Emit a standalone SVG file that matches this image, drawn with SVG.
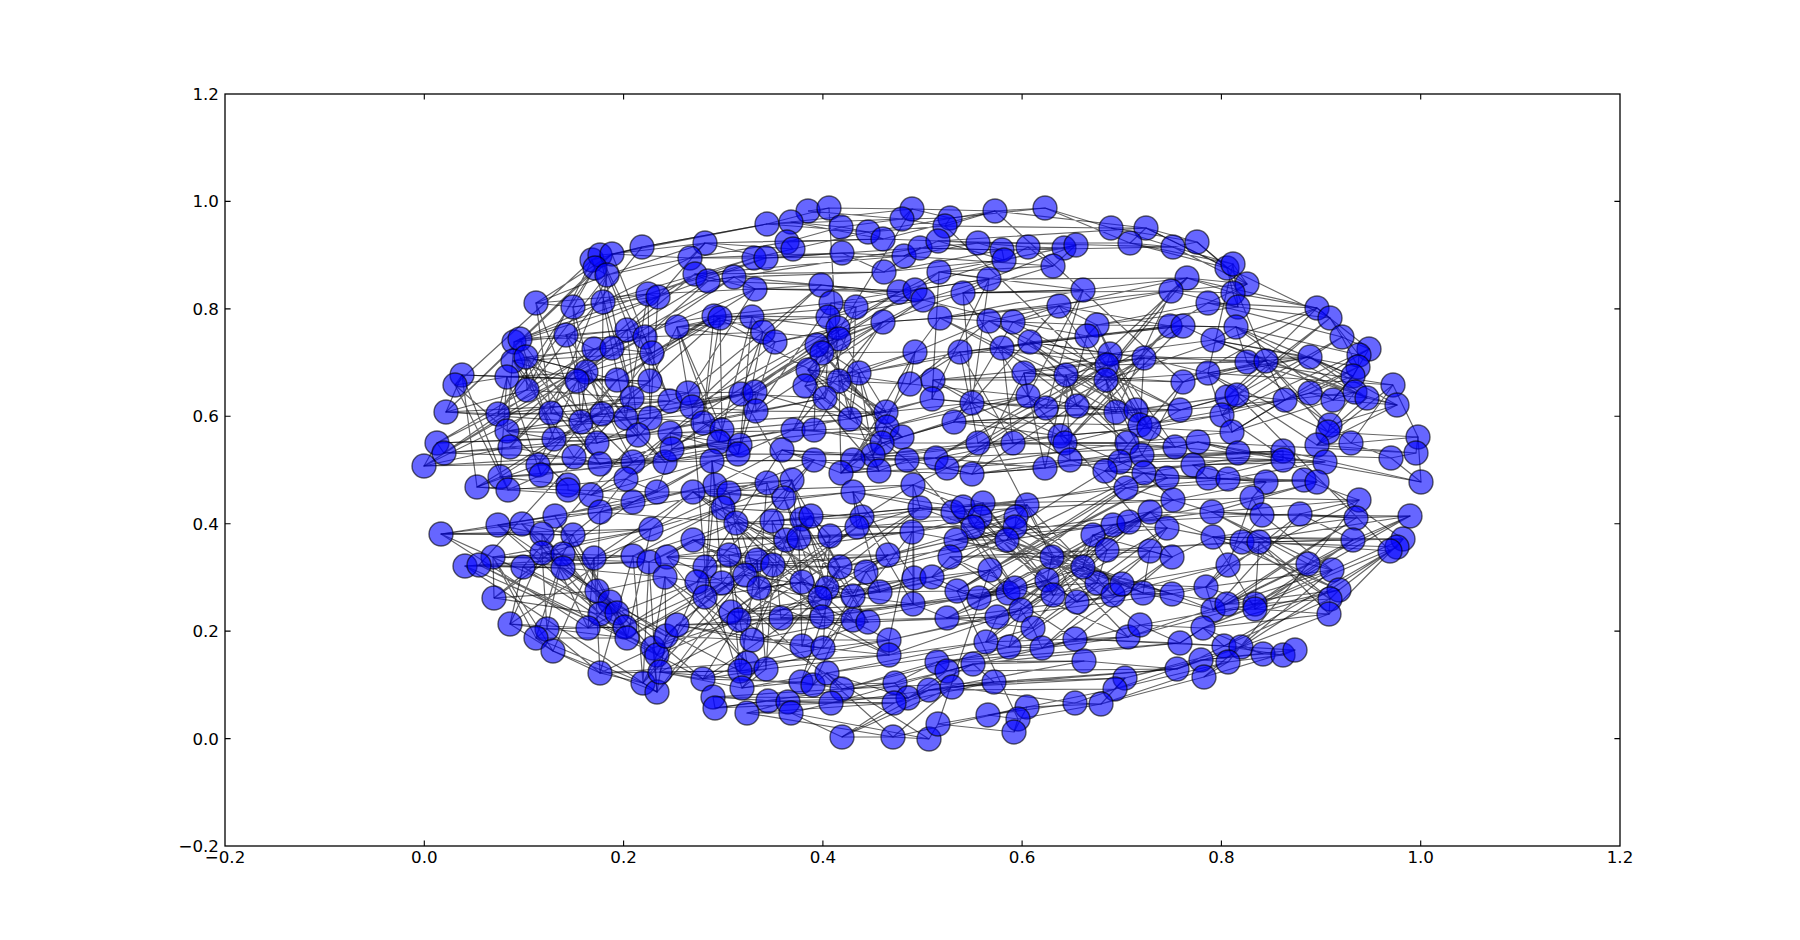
<svg xmlns="http://www.w3.org/2000/svg" width="1800" height="940" viewBox="0 0 1800 940">
<style>
.e{fill:none;stroke:#000;stroke-opacity:.6;stroke-width:1.2;stroke-linejoin:round}
.nodes circle{fill:#00f;fill-opacity:.6;stroke:#000;stroke-opacity:.6;stroke-width:1.4}
.tk{stroke:#000;stroke-width:1.1}
.lbl{font-family:"DejaVu Sans","Liberation Sans",sans-serif;font-size:16.7px;fill:#000}
</style>
<rect x="0" y="0" width="1800" height="940" fill="#fff"/>
<g id="edges">
<path class="e" d="M642,247 592,260 600,255 612,254 595,268 607,275 536,303 573,307 603,302 648,294 658,297 514,342 520,339 566,335 627,330 645,337 594,349 612,348 652,353 513,361 526,357 586,372 577,381 617,380 507,377 650,381 462,375 455,385"/>
<path class="e" d="M808,211 829,208 912,209 902,219 767,224 791,222 841,227 868,232 883,239 787,242 793,249 705,243 690,258 754,258 766,258 842,253 904,256 920,248 884,272 695,274 708,281 734,277 755,289 821,285 899,292 915,290 923,300 831,303 856,307 828,317 714,316 720,318 677,327 752,317 763,332 775,342 838,328 839,339 883,322 817,345 822,353 808,370 859,373 915,352 910,384 839,381 805,386"/>
<path class="e" d="M950,218 945,226 995,211 1045,208 1111,228 1146,228 1130,243 1173,247 938,241 978,243 1002,250 1004,260 1028,247 1064,248 1076,245 1053,266 939,272 989,279 963,293 1083,290 1187,278 1171,291 940,318 989,321 1013,322 1059,306 1097,325 1087,336 1170,326 1183,326 960,352 1002,348 1030,342 1110,354 1107,365 1144,358 1024,373 1066,375 933,380 1106,380 1183,382"/>
<path class="e" d="M1197,242 1227,268 1233,264 1247,284 1233,293 1238,307 1208,303 1317,308 1330,318 1342,337 1369,349 1359,355 1358,367 1353,376 1236,327 1213,340 1310,357 1247,362 1266,361 1208,373 1393,385"/>
<path class="e" d="M527,390 632,398 670,401 446,412 498,414 551,413 581,422 602,414 626,418 650,418 507,431 554,439 597,443 638,435 437,443 444,453 510,447 424,466 574,457 600,464 633,462 665,462 538,465 541,475 500,477 477,487 508,490 568,485 568,490 591,495 626,479 657,492 633,502 600,512 555,516 498,525 522,524 441,534 542,534 573,535 651,529 542,553 563,554 493,557 594,558 633,556 649,562 465,566 479,565 523,567 563,568"/>
<path class="e" d="M688,393 692,407 741,394 755,392 756,411 825,398 850,419 886,412 703,423 722,430 719,442 740,445 738,454 670,433 672,449 793,430 814,430 887,427 902,437 882,443 873,455 853,460 841,473 879,471 907,460 782,450 814,460 712,461 715,485 729,493 767,483 792,480 784,498 693,492 723,508 853,492 913,485 862,517 857,527 920,508 772,521 736,523 802,519 811,516 786,540 799,538 830,536 912,532 693,540 667,557 729,555 757,560 773,565 888,555 705,567 840,567 866,572"/>
<path class="e" d="M932,399 972,403 1028,396 1046,408 1077,406 1116,412 1136,410 1180,410 954,422 1140,425 1149,428 1060,436 1065,443 978,443 1013,443 1127,443 1175,447 936,458 947,468 972,474 1045,468 1070,460 1120,462 1142,455 1105,471 1144,473 1167,478 1126,488 1173,500 953,512 963,507 983,503 980,517 973,527 1027,505 1016,517 1015,527 1007,540 956,540 1113,525 1129,522 1150,512 1167,528 1093,535 1107,550 1150,551 1172,557 950,557 1052,557"/>
<path class="e" d="M1227,397 1237,395 1222,415 1232,432 1285,400 1310,393 1333,400 1355,392 1367,398 1397,405 1330,425 1328,432 1317,445 1351,443 1418,437 1416,453 1391,458 1421,482 1198,442 1238,453 1283,451 1283,460 1325,462 1193,465 1208,478 1228,479 1266,482 1304,480 1317,482 1252,498 1359,500 1212,512 1262,515 1300,514 1356,518 1410,516 1353,540 1213,537 1242,542 1259,542 1403,539 1397,547 1390,551"/>
<path class="e" d="M494,598 597,591 610,602 600,614 617,613 588,628 625,627 627,638 510,624 547,629 536,638 553,651 600,673 643,683 657,692 653,648 657,655 666,636 665,577"/>
<path class="e" d="M697,582 722,583 705,597 745,575 759,588 802,582 827,588 820,598 853,596 880,592 914,578 913,604 731,612 739,620 781,618 822,617 853,620 868,622 677,625 752,640 802,646 823,648 889,640 889,655 747,663 740,671 766,669 703,679 660,672 742,688 801,682 813,685 827,673 842,689 895,683 908,698 713,697 715,708 768,701 788,702 831,703 894,703 747,713 791,713 842,737 893,737 929,739"/>
<path class="e" d="M932,577 990,570 957,591 979,598 1008,593 1015,588 1047,580 1053,595 1097,583 1077,602 1113,595 1122,584 1143,593 1172,594 1083,567 947,618 997,617 1021,610 1033,628 986,642 1009,647 1042,648 1075,639 1128,637 1140,625 1180,643 937,662 947,671 973,664 1084,661 1177,669 994,682 929,690 952,687 1125,678 1115,689 1075,703 1101,704 1027,707 988,715 1018,719 1014,732 938,724"/>
<path class="e" d="M1228,565 1308,564 1332,570 1206,587 1213,610 1227,604 1255,604 1255,609 1339,590 1330,599 1329,614 1203,628 1224,646 1241,647 1263,654 1283,655 1295,650 1201,660 1228,662 1204,677"/>
<path class="e" d="M642,247 612,254 536,303 648,294 520,339 645,337 652,353 586,372 507,377 455,385 592,260 595,268 573,307 658,297 566,335 594,349 513,361 577,381 650,381 600,255 607,275 603,302 514,342 627,330 612,348 526,357 617,380 462,375"/>
<path class="e" d="M808,211 902,219 841,227 787,242 690,258 842,253 884,272 734,277 899,292 831,303 714,316 752,317 838,328 817,345 859,373 839,381 829,208 767,224 868,232 793,249 754,258 904,256 695,274 755,289 915,290 856,307 720,318 763,332 839,339 822,353 915,352 805,386 912,209 791,222 883,239 705,243 766,258 920,248 708,281 821,285 923,300 828,317 677,327 775,342 883,322 808,370 910,384"/>
<path class="e" d="M950,218 1045,208 1130,243 978,243 1028,247 1053,266 963,293 1171,291 1013,322 1087,336 960,352 1110,354 1024,373 1106,380 945,226 1111,228 1173,247 1002,250 1064,248 939,272 1083,290 940,318 1059,306 1170,326 1002,348 1107,365 1066,375 1183,382 995,211 1146,228 938,241 1004,260 1076,245 989,279 1187,278 989,321 1097,325 1183,326 1030,342 1144,358 933,380"/>
<path class="e" d="M1197,242 1247,284 1208,303 1342,337 1358,367 1213,340 1266,361 1227,268 1233,293 1317,308 1369,349 1353,376 1310,357 1208,373 1233,264 1238,307 1330,318 1359,355 1236,327 1247,362 1393,385"/>
<path class="e" d="M1227,397 1232,432 1333,400 1397,405 1317,445 1416,453 1198,442 1283,460 1208,478 1304,480 1359,500 1300,514 1353,540 1259,542 1390,551 1237,395 1285,400 1355,392 1330,425 1351,443 1391,458 1238,453 1325,462 1228,479 1317,482 1212,512 1356,518 1213,537 1403,539 1222,415 1310,393 1367,398 1328,432 1418,437 1421,482 1283,451 1193,465 1266,482 1252,498 1262,515 1410,516 1242,542 1397,547"/>
<path class="e" d="M932,399 1046,408 1136,410 1140,425 1065,443 1127,443 947,468 1070,460 1105,471 1126,488 963,507 973,527 1015,527 1113,525 1167,528 1150,551 1052,557 972,403 1077,406 1180,410 1149,428 978,443 1175,447 972,474 1120,462 1144,473 1173,500 983,503 1027,505 1007,540 1129,522 1093,535 1172,557 1028,396 1116,412 954,422 1060,436 1013,443 936,458 1045,468 1142,455 1167,478 953,512 980,517 1016,517 956,540 1150,512 1107,550 950,557"/>
<path class="e" d="M688,393 755,392 850,419 722,430 738,454 793,430 902,437 853,460 907,460 712,461 767,483 693,492 913,485 920,508 802,519 799,538 693,540 757,560 705,567 692,407 756,411 886,412 719,442 670,433 814,430 882,443 841,473 782,450 715,485 792,480 723,508 862,517 772,521 811,516 830,536 667,557 773,565 840,567 741,394 825,398 703,423 740,445 672,449 887,427 873,455 879,471 814,460 729,493 784,498 853,492 857,527 736,523 786,540 912,532 729,555 888,555 866,572"/>
<path class="e" d="M527,390 446,412 581,422 650,418 597,443 444,453 574,457 665,462 500,477 568,485 626,479 600,512 522,524 573,535 563,554 633,556 479,565 632,398 498,414 602,414 507,431 638,435 510,447 600,464 538,465 477,487 568,490 657,492 555,516 441,534 651,529 493,557 649,562 523,567 670,401 551,413 626,418 554,439 437,443 424,466 633,462 541,475 508,490 591,495 633,502 498,525 542,534 542,553 594,558 465,566 563,568"/>
<path class="e" d="M494,598 600,614 625,627 547,629 600,673 653,648 665,577 597,591 617,613 627,638 536,638 643,683 657,655 610,602 588,628 510,624 553,651 657,692 666,636"/>
<path class="e" d="M697,582 745,575 827,588 880,592 731,612 822,617 677,625 823,648 747,663 703,679 801,682 842,689 713,697 788,702 747,713 893,737 722,583 759,588 820,598 914,578 739,620 853,620 752,640 889,640 740,671 660,672 813,685 895,683 715,708 831,703 791,713 929,739 705,597 802,582 853,596 913,604 781,618 868,622 802,646 889,655 766,669 742,688 827,673 908,698 768,701 894,703 842,737"/>
<path class="e" d="M932,577 979,598 1047,580 1077,602 1143,593 947,618 1033,628 1042,648 1140,625 947,671 1177,669 952,687 1075,703 988,715 938,724 990,570 1008,593 1053,595 1113,595 1172,594 997,617 986,642 1075,639 1180,643 973,664 994,682 1125,678 1101,704 1018,719 957,591 1015,588 1097,583 1122,584 1083,567 1021,610 1009,647 1128,637 937,662 1084,661 929,690 1115,689 1027,707 1014,732"/>
<path class="e" d="M1228,565 1206,587 1255,604 1330,599 1224,646 1283,655 1228,662 1308,564 1213,610 1255,609 1329,614 1241,647 1295,650 1204,677 1332,570 1227,604 1339,590 1203,628 1263,654 1201,660"/>
<path class="e" d="M658,297 705,243M648,294 755,289M652,353 720,318M617,380 688,393M645,337 763,332M642,247 767,224M627,330 714,316M612,254 690,258M915,290 989,279M923,300 1013,322M912,209 995,211M920,248 1002,250M915,352 960,352M910,384 1028,396M904,256 1053,266M883,322 940,318M1173,247 1197,242M1187,278 1317,308M1183,326 1236,327M1171,291 1247,284M1183,382 1266,361M1146,228 1330,318M1393,385 1418,437M1353,376 1333,400M1266,361 1285,400M1208,373 1222,415M1024,373 1028,396M1066,375 1077,406M1106,380 1116,412M933,380 932,399M1144,358 1140,425M808,370 825,398M859,373 850,419M839,381 886,412M763,332 741,394M677,327 688,393M586,372 581,422M650,381 632,398M507,377 498,414M462,375 446,412M526,357 527,390M665,462 712,461M657,492 693,492M651,529 723,508M650,418 703,423M649,562 705,567M907,460 936,458M913,485 947,468M920,508 953,512M912,532 956,540M902,437 954,422M1175,447 1198,442M1173,500 1212,512M1172,557 1213,537M1180,410 1227,397M1167,478 1208,478M493,557 494,598M563,568 597,591M594,558 588,628M523,567 510,624M705,567 697,582M757,560 759,588M840,567 827,588M866,572 880,592M773,565 745,575M950,557 932,577M1052,557 1047,580M1107,550 1097,583M1150,551 1143,593M1083,567 1093,535M1259,542 1255,604M1390,551 1339,590M1353,540 1308,564M657,655 703,679M666,636 677,625M665,577 697,582M914,578 932,577M913,604 947,618M908,698 929,690M929,739 938,724M1180,643 1203,628M1172,594 1206,587M1177,669 1201,660M441,534 573,535M600,512 736,523M857,527 1015,527M1070,460 1238,453M1120,462 1283,460M738,454 873,455M782,450 936,458M1013,443 1127,443M1105,471 1266,482M1144,358 1310,357M963,293 1083,290M755,289 899,292M600,464 738,454M842,689 994,682M1075,639 1224,646"/>
<path class="e" d="M642,247 527,390 592,260 632,398 600,255 670,401 612,254 446,412 595,268 498,414 607,275 551,413 536,303 581,422 573,307 602,414 603,302 626,418 648,294 650,418 658,297 507,431 514,342 554,439 520,339 597,443 566,335 638,435 627,330 437,443 645,337 444,453 594,349 510,447 612,348 424,466 652,353 574,457 513,361 600,464 526,357 633,462 586,372 665,462 577,381 538,465 617,380 541,475 507,377 500,477 650,381 477,487 462,375 508,490 455,385 568,485"/>
<path class="e" d="M755,289 688,393 821,285 692,407 899,292 741,394 915,290 755,392 923,300 756,411 831,303 825,398 856,307 850,419 828,317 886,412 714,316 703,423 720,318 722,430 677,327 719,442 752,317 740,445 763,332 738,454 775,342 670,433 838,328 672,449 839,339 793,430 883,322 814,430 817,345 887,427 822,353 902,437 808,370 882,443 859,373 873,455 915,352 853,460 910,384 841,473 839,381 879,471 805,386 907,460"/>
<path class="e" d="M939,272 932,399 989,279 972,403 963,293 1028,396 1083,290 1046,408 1187,278 1077,406 1171,291 1116,412 940,318 1136,410 989,321 1180,410 1013,322 954,422 1059,306 1140,425 1097,325 1149,428 1087,336 1060,436 1170,326 1065,443 1183,326 978,443 960,352 1013,443 1002,348 1127,443 1030,342 1175,447 1110,354 936,458 1107,365 947,468 1144,358 972,474 1024,373 1045,468 1066,375 1070,460 933,380 1120,462 1106,380 1142,455 1183,382 1105,471"/>
<path class="e" d="M782,450 697,582 814,460 722,583 712,461 705,597 715,485 745,575 729,493 759,588 767,483 802,582 792,480 827,588 784,498 820,598 693,492 853,596 723,508 880,592 853,492 914,578 913,485 913,604 862,517 731,612 857,527 739,620 920,508 781,618 772,521 822,617 736,523 853,620 802,519 868,622 811,516 677,625 786,540 752,640 799,538 802,646 830,536 823,648 912,532 889,640 693,540 889,655 667,557 747,663 729,555 740,671 757,560 766,669 773,565 703,679 888,555 660,672 705,567 742,688 840,567 801,682 866,572 813,685"/>
<path class="e" d="M1105,471 932,577 1144,473 990,570 1167,478 957,591 1126,488 979,598 1173,500 1008,593 953,512 1015,588 963,507 1047,580 983,503 1053,595 980,517 1097,583 973,527 1077,602 1027,505 1113,595 1016,517 1122,584 1015,527 1143,593 1007,540 1172,594 956,540 1083,567 1113,525 947,618 1129,522 997,617 1150,512 1021,610 1167,528 1033,628 1093,535 986,642 1107,550 1009,647 1150,551 1042,648 1172,557 1075,639 950,557 1128,637 1052,557 1140,625"/>
<path class="e" d="M1317,308 1227,397 1330,318 1237,395 1342,337 1222,415 1369,349 1232,432 1359,355 1285,400 1358,367 1310,393 1353,376 1333,400 1236,327 1355,392 1213,340 1367,398 1310,357 1397,405 1247,362 1330,425 1266,361 1328,432 1208,373 1317,445 1393,385 1351,443"/>
<path class="e" d="M1252,498 1228,565 1359,500 1308,564 1212,512 1332,570 1262,515 1206,587 1300,514 1213,610 1356,518 1227,604 1410,516 1255,604 1353,540 1255,609 1213,537 1339,590 1242,542 1330,599 1259,542 1329,614 1403,539 1203,628 1397,547 1224,646 1390,551 1241,647"/>
<path class="e" d="M633,502 494,598 600,512 597,591 555,516 610,602 498,525 600,614 522,524 617,613 441,534 588,628 542,534 625,627 573,535 627,638 651,529 510,624 542,553 547,629 563,554 536,638 493,557 553,651 594,558 600,673 633,556 643,683 649,562 657,692 465,566 653,648 479,565 657,655 523,567 666,636 563,568 665,577"/>
<path class="e" d="M827,588 932,577 853,596 990,570 880,592 957,591 914,578 979,598 913,604 1008,593 822,617 1015,588 853,620 947,618 868,622 997,617 889,640 1021,610 889,655 986,642 827,673 1009,647 842,689 937,662 895,683 947,671 908,698 973,664 831,703 994,682 894,703 929,690 842,737 952,687 893,737 1027,707"/>
<path class="e" d="M850,419 932,399 886,412 972,403 887,427 1028,396 902,437 954,422 882,443 978,443 873,455 1013,443 853,460 936,458 841,473 947,468 879,471 972,474 907,460 953,512 853,492 963,507 913,485 983,503 862,517 980,517 857,527 973,527 920,508 1027,505 912,532 1016,517 888,555 1015,527 866,572 1007,540 840,567 956,540"/>
<path class="e" d="M632,398 688,393 670,401 692,407 602,414 741,394 626,418 755,392 650,418 756,411 597,443 703,423 638,435 722,430 600,464 719,442 633,462 740,445 665,462 738,454 591,495 670,433 626,479 672,449 657,492 712,461 633,502 715,485 600,512 729,493 651,529 693,492 594,558 723,508 633,556 736,523 649,562 693,540"/>
<path class="e" d="M1116,412 1227,397 1136,410 1237,395 1180,410 1285,400 1140,425 1222,415 1149,428 1232,432 1127,443 1198,442 1175,447 1238,453 1120,462 1283,451 1142,455 1283,460 1105,471 1193,465 1144,473 1208,478 1167,478 1228,479 1126,488 1266,482 1173,500 1252,498 1113,525 1212,512 1129,522 1262,515 1150,512 1213,537 1167,528 1242,542 1107,550 1259,542"/>
<path class="e" d="M642,247 767,224 612,254 705,243 607,275 690,258 603,302 754,258 648,294 766,258 658,297 695,274 627,330 708,281 645,337 734,277 612,348 755,289 652,353 714,316 617,380 720,318 650,381 677,327"/>
<path class="e" d="M912,209 950,218 902,219 945,226 868,232 995,211 883,239 938,241 904,256 978,243 920,248 1002,250 884,272 1004,260 899,292 939,272 915,290 989,279 923,300 963,293 883,322 940,318 915,352 989,321 910,384 960,352 859,373 1002,348"/>
<path class="e" d="M1111,228 1197,242 1146,228 1227,268 1130,243 1233,264 1173,247 1247,284 1187,278 1233,293 1171,291 1238,307 1097,325 1208,303 1170,326 1236,327 1183,326 1213,340 1110,354 1247,362 1107,365 1266,361 1144,358 1208,373 1106,380 1317,308 1183,382 1310,357"/>
<path class="e" d="M1113,595 1228,565 1122,584 1206,587 1143,593 1213,610 1172,594 1227,604 1128,637 1255,604 1140,625 1203,628 1180,643 1224,646 1177,669 1241,647 1125,678 1201,660 1115,689 1228,662 1101,704 1204,677"/>
<path class="e" d="M617,613 697,582 625,627 722,583 627,638 705,597 643,683 745,575 657,692 731,612 653,648 739,620 657,655 677,625 666,636 752,640 665,577 747,663 600,673 740,671 610,602 703,679"/>
</g>
<g class="nodes">
<g id="n1"><circle cx="642" cy="247" r="12"/></g>
<g id="n2"><circle cx="592" cy="260" r="12"/></g>
<g id="n3"><circle cx="600" cy="255" r="12"/></g>
<g id="n4"><circle cx="612" cy="254" r="12"/></g>
<g id="n5"><circle cx="595" cy="268" r="12"/></g>
<g id="n6"><circle cx="607" cy="275" r="12"/></g>
<g id="n7"><circle cx="536" cy="303" r="12"/></g>
<g id="n8"><circle cx="573" cy="307" r="12"/></g>
<g id="n9"><circle cx="603" cy="302" r="12"/></g>
<g id="n10"><circle cx="648" cy="294" r="12"/></g>
<g id="n11"><circle cx="658" cy="297" r="12"/></g>
<g id="n12"><circle cx="514" cy="342" r="12"/></g>
<g id="n13"><circle cx="520" cy="339" r="12"/></g>
<g id="n14"><circle cx="566" cy="335" r="12"/></g>
<g id="n15"><circle cx="627" cy="330" r="12"/></g>
<g id="n16"><circle cx="645" cy="337" r="12"/></g>
<g id="n17"><circle cx="594" cy="349" r="12"/></g>
<g id="n18"><circle cx="612" cy="348" r="12"/></g>
<g id="n19"><circle cx="652" cy="353" r="12"/></g>
<g id="n20"><circle cx="513" cy="361" r="12"/></g>
<g id="n21"><circle cx="526" cy="357" r="12"/></g>
<g id="n22"><circle cx="586" cy="372" r="12"/></g>
<g id="n23"><circle cx="577" cy="381" r="12"/></g>
<g id="n24"><circle cx="617" cy="380" r="12"/></g>
<g id="n25"><circle cx="507" cy="377" r="12"/></g>
<g id="n26"><circle cx="650" cy="381" r="12"/></g>
<g id="n27"><circle cx="462" cy="375" r="12"/></g>
<g id="n28"><circle cx="455" cy="385" r="12"/></g>
<g id="n29"><circle cx="808" cy="211" r="12"/></g>
<g id="n30"><circle cx="829" cy="208" r="12"/></g>
<g id="n31"><circle cx="912" cy="209" r="12"/></g>
<g id="n32"><circle cx="902" cy="219" r="12"/></g>
<g id="n33"><circle cx="767" cy="224" r="12"/></g>
<g id="n34"><circle cx="791" cy="222" r="12"/></g>
<g id="n35"><circle cx="841" cy="227" r="12"/></g>
<g id="n36"><circle cx="868" cy="232" r="12"/></g>
<g id="n37"><circle cx="883" cy="239" r="12"/></g>
<g id="n38"><circle cx="787" cy="242" r="12"/></g>
<g id="n39"><circle cx="793" cy="249" r="12"/></g>
<g id="n40"><circle cx="705" cy="243" r="12"/></g>
<g id="n41"><circle cx="690" cy="258" r="12"/></g>
<g id="n42"><circle cx="754" cy="258" r="12"/></g>
<g id="n43"><circle cx="766" cy="258" r="12"/></g>
<g id="n44"><circle cx="842" cy="253" r="12"/></g>
<g id="n45"><circle cx="904" cy="256" r="12"/></g>
<g id="n46"><circle cx="920" cy="248" r="12"/></g>
<g id="n47"><circle cx="884" cy="272" r="12"/></g>
<g id="n48"><circle cx="695" cy="274" r="12"/></g>
<g id="n49"><circle cx="708" cy="281" r="12"/></g>
<g id="n50"><circle cx="734" cy="277" r="12"/></g>
<g id="n51"><circle cx="755" cy="289" r="12"/></g>
<g id="n52"><circle cx="821" cy="285" r="12"/></g>
<g id="n53"><circle cx="899" cy="292" r="12"/></g>
<g id="n54"><circle cx="915" cy="290" r="12"/></g>
<g id="n55"><circle cx="923" cy="300" r="12"/></g>
<g id="n56"><circle cx="831" cy="303" r="12"/></g>
<g id="n57"><circle cx="856" cy="307" r="12"/></g>
<g id="n58"><circle cx="828" cy="317" r="12"/></g>
<g id="n59"><circle cx="714" cy="316" r="12"/></g>
<g id="n60"><circle cx="720" cy="318" r="12"/></g>
<g id="n61"><circle cx="677" cy="327" r="12"/></g>
<g id="n62"><circle cx="752" cy="317" r="12"/></g>
<g id="n63"><circle cx="763" cy="332" r="12"/></g>
<g id="n64"><circle cx="775" cy="342" r="12"/></g>
<g id="n65"><circle cx="838" cy="328" r="12"/></g>
<g id="n66"><circle cx="839" cy="339" r="12"/></g>
<g id="n67"><circle cx="883" cy="322" r="12"/></g>
<g id="n68"><circle cx="817" cy="345" r="12"/></g>
<g id="n69"><circle cx="822" cy="353" r="12"/></g>
<g id="n70"><circle cx="808" cy="370" r="12"/></g>
<g id="n71"><circle cx="859" cy="373" r="12"/></g>
<g id="n72"><circle cx="915" cy="352" r="12"/></g>
<g id="n73"><circle cx="910" cy="384" r="12"/></g>
<g id="n74"><circle cx="839" cy="381" r="12"/></g>
<g id="n75"><circle cx="805" cy="386" r="12"/></g>
<g id="n76"><circle cx="950" cy="218" r="12"/></g>
<g id="n77"><circle cx="945" cy="226" r="12"/></g>
<g id="n78"><circle cx="995" cy="211" r="12"/></g>
<g id="n79"><circle cx="1045" cy="208" r="12"/></g>
<g id="n80"><circle cx="1111" cy="228" r="12"/></g>
<g id="n81"><circle cx="1146" cy="228" r="12"/></g>
<g id="n82"><circle cx="1130" cy="243" r="12"/></g>
<g id="n83"><circle cx="1173" cy="247" r="12"/></g>
<g id="n84"><circle cx="938" cy="241" r="12"/></g>
<g id="n85"><circle cx="978" cy="243" r="12"/></g>
<g id="n86"><circle cx="1002" cy="250" r="12"/></g>
<g id="n87"><circle cx="1004" cy="260" r="12"/></g>
<g id="n88"><circle cx="1028" cy="247" r="12"/></g>
<g id="n89"><circle cx="1064" cy="248" r="12"/></g>
<g id="n90"><circle cx="1076" cy="245" r="12"/></g>
<g id="n91"><circle cx="1053" cy="266" r="12"/></g>
<g id="n92"><circle cx="939" cy="272" r="12"/></g>
<g id="n93"><circle cx="989" cy="279" r="12"/></g>
<g id="n94"><circle cx="963" cy="293" r="12"/></g>
<g id="n95"><circle cx="1083" cy="290" r="12"/></g>
<g id="n96"><circle cx="1187" cy="278" r="12"/></g>
<g id="n97"><circle cx="1171" cy="291" r="12"/></g>
<g id="n98"><circle cx="940" cy="318" r="12"/></g>
<g id="n99"><circle cx="989" cy="321" r="12"/></g>
<g id="n100"><circle cx="1013" cy="322" r="12"/></g>
<g id="n101"><circle cx="1059" cy="306" r="12"/></g>
<g id="n102"><circle cx="1097" cy="325" r="12"/></g>
<g id="n103"><circle cx="1087" cy="336" r="12"/></g>
<g id="n104"><circle cx="1170" cy="326" r="12"/></g>
<g id="n105"><circle cx="1183" cy="326" r="12"/></g>
<g id="n106"><circle cx="960" cy="352" r="12"/></g>
<g id="n107"><circle cx="1002" cy="348" r="12"/></g>
<g id="n108"><circle cx="1030" cy="342" r="12"/></g>
<g id="n109"><circle cx="1110" cy="354" r="12"/></g>
<g id="n110"><circle cx="1107" cy="365" r="12"/></g>
<g id="n111"><circle cx="1144" cy="358" r="12"/></g>
<g id="n112"><circle cx="1024" cy="373" r="12"/></g>
<g id="n113"><circle cx="1066" cy="375" r="12"/></g>
<g id="n114"><circle cx="933" cy="380" r="12"/></g>
<g id="n115"><circle cx="1106" cy="380" r="12"/></g>
<g id="n116"><circle cx="1183" cy="382" r="12"/></g>
<g id="n117"><circle cx="1197" cy="242" r="12"/></g>
<g id="n118"><circle cx="1227" cy="268" r="12"/></g>
<g id="n119"><circle cx="1233" cy="264" r="12"/></g>
<g id="n120"><circle cx="1247" cy="284" r="12"/></g>
<g id="n121"><circle cx="1233" cy="293" r="12"/></g>
<g id="n122"><circle cx="1238" cy="307" r="12"/></g>
<g id="n123"><circle cx="1208" cy="303" r="12"/></g>
<g id="n124"><circle cx="1317" cy="308" r="12"/></g>
<g id="n125"><circle cx="1330" cy="318" r="12"/></g>
<g id="n126"><circle cx="1342" cy="337" r="12"/></g>
<g id="n127"><circle cx="1369" cy="349" r="12"/></g>
<g id="n128"><circle cx="1359" cy="355" r="12"/></g>
<g id="n129"><circle cx="1358" cy="367" r="12"/></g>
<g id="n130"><circle cx="1353" cy="376" r="12"/></g>
<g id="n131"><circle cx="1236" cy="327" r="12"/></g>
<g id="n132"><circle cx="1213" cy="340" r="12"/></g>
<g id="n133"><circle cx="1310" cy="357" r="12"/></g>
<g id="n134"><circle cx="1247" cy="362" r="12"/></g>
<g id="n135"><circle cx="1266" cy="361" r="12"/></g>
<g id="n136"><circle cx="1208" cy="373" r="12"/></g>
<g id="n137"><circle cx="1393" cy="385" r="12"/></g>
<g id="n138"><circle cx="527" cy="390" r="12"/></g>
<g id="n139"><circle cx="632" cy="398" r="12"/></g>
<g id="n140"><circle cx="670" cy="401" r="12"/></g>
<g id="n141"><circle cx="446" cy="412" r="12"/></g>
<g id="n142"><circle cx="498" cy="414" r="12"/></g>
<g id="n143"><circle cx="551" cy="413" r="12"/></g>
<g id="n144"><circle cx="581" cy="422" r="12"/></g>
<g id="n145"><circle cx="602" cy="414" r="12"/></g>
<g id="n146"><circle cx="626" cy="418" r="12"/></g>
<g id="n147"><circle cx="650" cy="418" r="12"/></g>
<g id="n148"><circle cx="507" cy="431" r="12"/></g>
<g id="n149"><circle cx="554" cy="439" r="12"/></g>
<g id="n150"><circle cx="597" cy="443" r="12"/></g>
<g id="n151"><circle cx="638" cy="435" r="12"/></g>
<g id="n152"><circle cx="437" cy="443" r="12"/></g>
<g id="n153"><circle cx="444" cy="453" r="12"/></g>
<g id="n154"><circle cx="510" cy="447" r="12"/></g>
<g id="n155"><circle cx="424" cy="466" r="12"/></g>
<g id="n156"><circle cx="574" cy="457" r="12"/></g>
<g id="n157"><circle cx="600" cy="464" r="12"/></g>
<g id="n158"><circle cx="633" cy="462" r="12"/></g>
<g id="n159"><circle cx="665" cy="462" r="12"/></g>
<g id="n160"><circle cx="538" cy="465" r="12"/></g>
<g id="n161"><circle cx="541" cy="475" r="12"/></g>
<g id="n162"><circle cx="500" cy="477" r="12"/></g>
<g id="n163"><circle cx="477" cy="487" r="12"/></g>
<g id="n164"><circle cx="508" cy="490" r="12"/></g>
<g id="n165"><circle cx="568" cy="485" r="12"/></g>
<g id="n166"><circle cx="568" cy="490" r="12"/></g>
<g id="n167"><circle cx="591" cy="495" r="12"/></g>
<g id="n168"><circle cx="626" cy="479" r="12"/></g>
<g id="n169"><circle cx="657" cy="492" r="12"/></g>
<g id="n170"><circle cx="633" cy="502" r="12"/></g>
<g id="n171"><circle cx="600" cy="512" r="12"/></g>
<g id="n172"><circle cx="555" cy="516" r="12"/></g>
<g id="n173"><circle cx="498" cy="525" r="12"/></g>
<g id="n174"><circle cx="522" cy="524" r="12"/></g>
<g id="n175"><circle cx="441" cy="534" r="12"/></g>
<g id="n176"><circle cx="542" cy="534" r="12"/></g>
<g id="n177"><circle cx="573" cy="535" r="12"/></g>
<g id="n178"><circle cx="651" cy="529" r="12"/></g>
<g id="n179"><circle cx="542" cy="553" r="12"/></g>
<g id="n180"><circle cx="563" cy="554" r="12"/></g>
<g id="n181"><circle cx="493" cy="557" r="12"/></g>
<g id="n182"><circle cx="594" cy="558" r="12"/></g>
<g id="n183"><circle cx="633" cy="556" r="12"/></g>
<g id="n184"><circle cx="649" cy="562" r="12"/></g>
<g id="n185"><circle cx="465" cy="566" r="12"/></g>
<g id="n186"><circle cx="479" cy="565" r="12"/></g>
<g id="n187"><circle cx="523" cy="567" r="12"/></g>
<g id="n188"><circle cx="563" cy="568" r="12"/></g>
<g id="n189"><circle cx="688" cy="393" r="12"/></g>
<g id="n190"><circle cx="692" cy="407" r="12"/></g>
<g id="n191"><circle cx="741" cy="394" r="12"/></g>
<g id="n192"><circle cx="755" cy="392" r="12"/></g>
<g id="n193"><circle cx="756" cy="411" r="12"/></g>
<g id="n194"><circle cx="825" cy="398" r="12"/></g>
<g id="n195"><circle cx="850" cy="419" r="12"/></g>
<g id="n196"><circle cx="886" cy="412" r="12"/></g>
<g id="n197"><circle cx="703" cy="423" r="12"/></g>
<g id="n198"><circle cx="722" cy="430" r="12"/></g>
<g id="n199"><circle cx="719" cy="442" r="12"/></g>
<g id="n200"><circle cx="740" cy="445" r="12"/></g>
<g id="n201"><circle cx="738" cy="454" r="12"/></g>
<g id="n202"><circle cx="670" cy="433" r="12"/></g>
<g id="n203"><circle cx="672" cy="449" r="12"/></g>
<g id="n204"><circle cx="793" cy="430" r="12"/></g>
<g id="n205"><circle cx="814" cy="430" r="12"/></g>
<g id="n206"><circle cx="887" cy="427" r="12"/></g>
<g id="n207"><circle cx="902" cy="437" r="12"/></g>
<g id="n208"><circle cx="882" cy="443" r="12"/></g>
<g id="n209"><circle cx="873" cy="455" r="12"/></g>
<g id="n210"><circle cx="853" cy="460" r="12"/></g>
<g id="n211"><circle cx="841" cy="473" r="12"/></g>
<g id="n212"><circle cx="879" cy="471" r="12"/></g>
<g id="n213"><circle cx="907" cy="460" r="12"/></g>
<g id="n214"><circle cx="782" cy="450" r="12"/></g>
<g id="n215"><circle cx="814" cy="460" r="12"/></g>
<g id="n216"><circle cx="712" cy="461" r="12"/></g>
<g id="n217"><circle cx="715" cy="485" r="12"/></g>
<g id="n218"><circle cx="729" cy="493" r="12"/></g>
<g id="n219"><circle cx="767" cy="483" r="12"/></g>
<g id="n220"><circle cx="792" cy="480" r="12"/></g>
<g id="n221"><circle cx="784" cy="498" r="12"/></g>
<g id="n222"><circle cx="693" cy="492" r="12"/></g>
<g id="n223"><circle cx="723" cy="508" r="12"/></g>
<g id="n224"><circle cx="853" cy="492" r="12"/></g>
<g id="n225"><circle cx="913" cy="485" r="12"/></g>
<g id="n226"><circle cx="862" cy="517" r="12"/></g>
<g id="n227"><circle cx="857" cy="527" r="12"/></g>
<g id="n228"><circle cx="920" cy="508" r="12"/></g>
<g id="n229"><circle cx="772" cy="521" r="12"/></g>
<g id="n230"><circle cx="736" cy="523" r="12"/></g>
<g id="n231"><circle cx="802" cy="519" r="12"/></g>
<g id="n232"><circle cx="811" cy="516" r="12"/></g>
<g id="n233"><circle cx="786" cy="540" r="12"/></g>
<g id="n234"><circle cx="799" cy="538" r="12"/></g>
<g id="n235"><circle cx="830" cy="536" r="12"/></g>
<g id="n236"><circle cx="912" cy="532" r="12"/></g>
<g id="n237"><circle cx="693" cy="540" r="12"/></g>
<g id="n238"><circle cx="667" cy="557" r="12"/></g>
<g id="n239"><circle cx="729" cy="555" r="12"/></g>
<g id="n240"><circle cx="757" cy="560" r="12"/></g>
<g id="n241"><circle cx="773" cy="565" r="12"/></g>
<g id="n242"><circle cx="888" cy="555" r="12"/></g>
<g id="n243"><circle cx="705" cy="567" r="12"/></g>
<g id="n244"><circle cx="840" cy="567" r="12"/></g>
<g id="n245"><circle cx="866" cy="572" r="12"/></g>
<g id="n246"><circle cx="932" cy="399" r="12"/></g>
<g id="n247"><circle cx="972" cy="403" r="12"/></g>
<g id="n248"><circle cx="1028" cy="396" r="12"/></g>
<g id="n249"><circle cx="1046" cy="408" r="12"/></g>
<g id="n250"><circle cx="1077" cy="406" r="12"/></g>
<g id="n251"><circle cx="1116" cy="412" r="12"/></g>
<g id="n252"><circle cx="1136" cy="410" r="12"/></g>
<g id="n253"><circle cx="1180" cy="410" r="12"/></g>
<g id="n254"><circle cx="954" cy="422" r="12"/></g>
<g id="n255"><circle cx="1140" cy="425" r="12"/></g>
<g id="n256"><circle cx="1149" cy="428" r="12"/></g>
<g id="n257"><circle cx="1060" cy="436" r="12"/></g>
<g id="n258"><circle cx="1065" cy="443" r="12"/></g>
<g id="n259"><circle cx="978" cy="443" r="12"/></g>
<g id="n260"><circle cx="1013" cy="443" r="12"/></g>
<g id="n261"><circle cx="1127" cy="443" r="12"/></g>
<g id="n262"><circle cx="1175" cy="447" r="12"/></g>
<g id="n263"><circle cx="936" cy="458" r="12"/></g>
<g id="n264"><circle cx="947" cy="468" r="12"/></g>
<g id="n265"><circle cx="972" cy="474" r="12"/></g>
<g id="n266"><circle cx="1045" cy="468" r="12"/></g>
<g id="n267"><circle cx="1070" cy="460" r="12"/></g>
<g id="n268"><circle cx="1120" cy="462" r="12"/></g>
<g id="n269"><circle cx="1142" cy="455" r="12"/></g>
<g id="n270"><circle cx="1105" cy="471" r="12"/></g>
<g id="n271"><circle cx="1144" cy="473" r="12"/></g>
<g id="n272"><circle cx="1167" cy="478" r="12"/></g>
<g id="n273"><circle cx="1126" cy="488" r="12"/></g>
<g id="n274"><circle cx="1173" cy="500" r="12"/></g>
<g id="n275"><circle cx="953" cy="512" r="12"/></g>
<g id="n276"><circle cx="963" cy="507" r="12"/></g>
<g id="n277"><circle cx="983" cy="503" r="12"/></g>
<g id="n278"><circle cx="980" cy="517" r="12"/></g>
<g id="n279"><circle cx="973" cy="527" r="12"/></g>
<g id="n280"><circle cx="1027" cy="505" r="12"/></g>
<g id="n281"><circle cx="1016" cy="517" r="12"/></g>
<g id="n282"><circle cx="1015" cy="527" r="12"/></g>
<g id="n283"><circle cx="1007" cy="540" r="12"/></g>
<g id="n284"><circle cx="956" cy="540" r="12"/></g>
<g id="n285"><circle cx="1113" cy="525" r="12"/></g>
<g id="n286"><circle cx="1129" cy="522" r="12"/></g>
<g id="n287"><circle cx="1150" cy="512" r="12"/></g>
<g id="n288"><circle cx="1167" cy="528" r="12"/></g>
<g id="n289"><circle cx="1093" cy="535" r="12"/></g>
<g id="n290"><circle cx="1107" cy="550" r="12"/></g>
<g id="n291"><circle cx="1150" cy="551" r="12"/></g>
<g id="n292"><circle cx="1172" cy="557" r="12"/></g>
<g id="n293"><circle cx="950" cy="557" r="12"/></g>
<g id="n294"><circle cx="1052" cy="557" r="12"/></g>
<g id="n295"><circle cx="1227" cy="397" r="12"/></g>
<g id="n296"><circle cx="1237" cy="395" r="12"/></g>
<g id="n297"><circle cx="1222" cy="415" r="12"/></g>
<g id="n298"><circle cx="1232" cy="432" r="12"/></g>
<g id="n299"><circle cx="1285" cy="400" r="12"/></g>
<g id="n300"><circle cx="1310" cy="393" r="12"/></g>
<g id="n301"><circle cx="1333" cy="400" r="12"/></g>
<g id="n302"><circle cx="1355" cy="392" r="12"/></g>
<g id="n303"><circle cx="1367" cy="398" r="12"/></g>
<g id="n304"><circle cx="1397" cy="405" r="12"/></g>
<g id="n305"><circle cx="1330" cy="425" r="12"/></g>
<g id="n306"><circle cx="1328" cy="432" r="12"/></g>
<g id="n307"><circle cx="1317" cy="445" r="12"/></g>
<g id="n308"><circle cx="1351" cy="443" r="12"/></g>
<g id="n309"><circle cx="1418" cy="437" r="12"/></g>
<g id="n310"><circle cx="1416" cy="453" r="12"/></g>
<g id="n311"><circle cx="1391" cy="458" r="12"/></g>
<g id="n312"><circle cx="1421" cy="482" r="12"/></g>
<g id="n313"><circle cx="1198" cy="442" r="12"/></g>
<g id="n314"><circle cx="1238" cy="453" r="12"/></g>
<g id="n315"><circle cx="1283" cy="451" r="12"/></g>
<g id="n316"><circle cx="1283" cy="460" r="12"/></g>
<g id="n317"><circle cx="1325" cy="462" r="12"/></g>
<g id="n318"><circle cx="1193" cy="465" r="12"/></g>
<g id="n319"><circle cx="1208" cy="478" r="12"/></g>
<g id="n320"><circle cx="1228" cy="479" r="12"/></g>
<g id="n321"><circle cx="1266" cy="482" r="12"/></g>
<g id="n322"><circle cx="1304" cy="480" r="12"/></g>
<g id="n323"><circle cx="1317" cy="482" r="12"/></g>
<g id="n324"><circle cx="1252" cy="498" r="12"/></g>
<g id="n325"><circle cx="1359" cy="500" r="12"/></g>
<g id="n326"><circle cx="1212" cy="512" r="12"/></g>
<g id="n327"><circle cx="1262" cy="515" r="12"/></g>
<g id="n328"><circle cx="1300" cy="514" r="12"/></g>
<g id="n329"><circle cx="1356" cy="518" r="12"/></g>
<g id="n330"><circle cx="1410" cy="516" r="12"/></g>
<g id="n331"><circle cx="1353" cy="540" r="12"/></g>
<g id="n332"><circle cx="1213" cy="537" r="12"/></g>
<g id="n333"><circle cx="1242" cy="542" r="12"/></g>
<g id="n334"><circle cx="1259" cy="542" r="12"/></g>
<g id="n335"><circle cx="1403" cy="539" r="12"/></g>
<g id="n336"><circle cx="1397" cy="547" r="12"/></g>
<g id="n337"><circle cx="1390" cy="551" r="12"/></g>
<g id="n338"><circle cx="494" cy="598" r="12"/></g>
<g id="n339"><circle cx="597" cy="591" r="12"/></g>
<g id="n340"><circle cx="610" cy="602" r="12"/></g>
<g id="n341"><circle cx="600" cy="614" r="12"/></g>
<g id="n342"><circle cx="617" cy="613" r="12"/></g>
<g id="n343"><circle cx="588" cy="628" r="12"/></g>
<g id="n344"><circle cx="625" cy="627" r="12"/></g>
<g id="n345"><circle cx="627" cy="638" r="12"/></g>
<g id="n346"><circle cx="510" cy="624" r="12"/></g>
<g id="n347"><circle cx="547" cy="629" r="12"/></g>
<g id="n348"><circle cx="536" cy="638" r="12"/></g>
<g id="n349"><circle cx="553" cy="651" r="12"/></g>
<g id="n350"><circle cx="600" cy="673" r="12"/></g>
<g id="n351"><circle cx="643" cy="683" r="12"/></g>
<g id="n352"><circle cx="657" cy="692" r="12"/></g>
<g id="n353"><circle cx="653" cy="648" r="12"/></g>
<g id="n354"><circle cx="657" cy="655" r="12"/></g>
<g id="n355"><circle cx="666" cy="636" r="12"/></g>
<g id="n356"><circle cx="665" cy="577" r="12"/></g>
<g id="n357"><circle cx="697" cy="582" r="12"/></g>
<g id="n358"><circle cx="722" cy="583" r="12"/></g>
<g id="n359"><circle cx="705" cy="597" r="12"/></g>
<g id="n360"><circle cx="745" cy="575" r="12"/></g>
<g id="n361"><circle cx="759" cy="588" r="12"/></g>
<g id="n362"><circle cx="802" cy="582" r="12"/></g>
<g id="n363"><circle cx="827" cy="588" r="12"/></g>
<g id="n364"><circle cx="820" cy="598" r="12"/></g>
<g id="n365"><circle cx="853" cy="596" r="12"/></g>
<g id="n366"><circle cx="880" cy="592" r="12"/></g>
<g id="n367"><circle cx="914" cy="578" r="12"/></g>
<g id="n368"><circle cx="913" cy="604" r="12"/></g>
<g id="n369"><circle cx="731" cy="612" r="12"/></g>
<g id="n370"><circle cx="739" cy="620" r="12"/></g>
<g id="n371"><circle cx="781" cy="618" r="12"/></g>
<g id="n372"><circle cx="822" cy="617" r="12"/></g>
<g id="n373"><circle cx="853" cy="620" r="12"/></g>
<g id="n374"><circle cx="868" cy="622" r="12"/></g>
<g id="n375"><circle cx="677" cy="625" r="12"/></g>
<g id="n376"><circle cx="752" cy="640" r="12"/></g>
<g id="n377"><circle cx="802" cy="646" r="12"/></g>
<g id="n378"><circle cx="823" cy="648" r="12"/></g>
<g id="n379"><circle cx="889" cy="640" r="12"/></g>
<g id="n380"><circle cx="889" cy="655" r="12"/></g>
<g id="n381"><circle cx="747" cy="663" r="12"/></g>
<g id="n382"><circle cx="740" cy="671" r="12"/></g>
<g id="n383"><circle cx="766" cy="669" r="12"/></g>
<g id="n384"><circle cx="703" cy="679" r="12"/></g>
<g id="n385"><circle cx="660" cy="672" r="12"/></g>
<g id="n386"><circle cx="742" cy="688" r="12"/></g>
<g id="n387"><circle cx="801" cy="682" r="12"/></g>
<g id="n388"><circle cx="813" cy="685" r="12"/></g>
<g id="n389"><circle cx="827" cy="673" r="12"/></g>
<g id="n390"><circle cx="842" cy="689" r="12"/></g>
<g id="n391"><circle cx="895" cy="683" r="12"/></g>
<g id="n392"><circle cx="908" cy="698" r="12"/></g>
<g id="n393"><circle cx="713" cy="697" r="12"/></g>
<g id="n394"><circle cx="715" cy="708" r="12"/></g>
<g id="n395"><circle cx="768" cy="701" r="12"/></g>
<g id="n396"><circle cx="788" cy="702" r="12"/></g>
<g id="n397"><circle cx="831" cy="703" r="12"/></g>
<g id="n398"><circle cx="894" cy="703" r="12"/></g>
<g id="n399"><circle cx="747" cy="713" r="12"/></g>
<g id="n400"><circle cx="791" cy="713" r="12"/></g>
<g id="n401"><circle cx="842" cy="737" r="12"/></g>
<g id="n402"><circle cx="893" cy="737" r="12"/></g>
<g id="n403"><circle cx="929" cy="739" r="12"/></g>
<g id="n404"><circle cx="932" cy="577" r="12"/></g>
<g id="n405"><circle cx="990" cy="570" r="12"/></g>
<g id="n406"><circle cx="957" cy="591" r="12"/></g>
<g id="n407"><circle cx="979" cy="598" r="12"/></g>
<g id="n408"><circle cx="1008" cy="593" r="12"/></g>
<g id="n409"><circle cx="1015" cy="588" r="12"/></g>
<g id="n410"><circle cx="1047" cy="580" r="12"/></g>
<g id="n411"><circle cx="1053" cy="595" r="12"/></g>
<g id="n412"><circle cx="1097" cy="583" r="12"/></g>
<g id="n413"><circle cx="1077" cy="602" r="12"/></g>
<g id="n414"><circle cx="1113" cy="595" r="12"/></g>
<g id="n415"><circle cx="1122" cy="584" r="12"/></g>
<g id="n416"><circle cx="1143" cy="593" r="12"/></g>
<g id="n417"><circle cx="1172" cy="594" r="12"/></g>
<g id="n418"><circle cx="1083" cy="567" r="12"/></g>
<g id="n419"><circle cx="947" cy="618" r="12"/></g>
<g id="n420"><circle cx="997" cy="617" r="12"/></g>
<g id="n421"><circle cx="1021" cy="610" r="12"/></g>
<g id="n422"><circle cx="1033" cy="628" r="12"/></g>
<g id="n423"><circle cx="986" cy="642" r="12"/></g>
<g id="n424"><circle cx="1009" cy="647" r="12"/></g>
<g id="n425"><circle cx="1042" cy="648" r="12"/></g>
<g id="n426"><circle cx="1075" cy="639" r="12"/></g>
<g id="n427"><circle cx="1128" cy="637" r="12"/></g>
<g id="n428"><circle cx="1140" cy="625" r="12"/></g>
<g id="n429"><circle cx="1180" cy="643" r="12"/></g>
<g id="n430"><circle cx="937" cy="662" r="12"/></g>
<g id="n431"><circle cx="947" cy="671" r="12"/></g>
<g id="n432"><circle cx="973" cy="664" r="12"/></g>
<g id="n433"><circle cx="1084" cy="661" r="12"/></g>
<g id="n434"><circle cx="1177" cy="669" r="12"/></g>
<g id="n435"><circle cx="994" cy="682" r="12"/></g>
<g id="n436"><circle cx="929" cy="690" r="12"/></g>
<g id="n437"><circle cx="952" cy="687" r="12"/></g>
<g id="n438"><circle cx="1125" cy="678" r="12"/></g>
<g id="n439"><circle cx="1115" cy="689" r="12"/></g>
<g id="n440"><circle cx="1075" cy="703" r="12"/></g>
<g id="n441"><circle cx="1101" cy="704" r="12"/></g>
<g id="n442"><circle cx="1027" cy="707" r="12"/></g>
<g id="n443"><circle cx="988" cy="715" r="12"/></g>
<g id="n444"><circle cx="1018" cy="719" r="12"/></g>
<g id="n445"><circle cx="1014" cy="732" r="12"/></g>
<g id="n446"><circle cx="938" cy="724" r="12"/></g>
<g id="n447"><circle cx="1228" cy="565" r="12"/></g>
<g id="n448"><circle cx="1308" cy="564" r="12"/></g>
<g id="n449"><circle cx="1332" cy="570" r="12"/></g>
<g id="n450"><circle cx="1206" cy="587" r="12"/></g>
<g id="n451"><circle cx="1213" cy="610" r="12"/></g>
<g id="n452"><circle cx="1227" cy="604" r="12"/></g>
<g id="n453"><circle cx="1255" cy="604" r="12"/></g>
<g id="n454"><circle cx="1255" cy="609" r="12"/></g>
<g id="n455"><circle cx="1339" cy="590" r="12"/></g>
<g id="n456"><circle cx="1330" cy="599" r="12"/></g>
<g id="n457"><circle cx="1329" cy="614" r="12"/></g>
<g id="n458"><circle cx="1203" cy="628" r="12"/></g>
<g id="n459"><circle cx="1224" cy="646" r="12"/></g>
<g id="n460"><circle cx="1241" cy="647" r="12"/></g>
<g id="n461"><circle cx="1263" cy="654" r="12"/></g>
<g id="n462"><circle cx="1283" cy="655" r="12"/></g>
<g id="n463"><circle cx="1295" cy="650" r="12"/></g>
<g id="n464"><circle cx="1201" cy="660" r="12"/></g>
<g id="n465"><circle cx="1228" cy="662" r="12"/></g>
<g id="n466"><circle cx="1204" cy="677" r="12"/></g>
</g>
<g id="axes">
<rect x="225" y="94" width="1395" height="752" fill="none" stroke="#000" stroke-width="1.3"/>
<path class="tk" d="M424.3,846v-5.6M623.6,846v-5.6M822.9,846v-5.6M1022.1,846v-5.6M1221.4,846v-5.6M1420.7,846v-5.6M424.3,94v5.6M623.6,94v5.6M822.9,94v5.6M1022.1,94v5.6M1221.4,94v5.6M1420.7,94v5.6M225,738.6h5.6M225,631.1h5.6M225,523.7h5.6M225,416.3h5.6M225,308.9h5.6M225,201.4h5.6M1620,738.6h-5.6M1620,631.1h-5.6M1620,523.7h-5.6M1620,416.3h-5.6M1620,308.9h-5.6M1620,201.4h-5.6"/>
<g class="lbl" text-anchor="middle">
<text x="225" y="863">−0.2</text>
<text x="424.3" y="863">0.0</text>
<text x="623.6" y="863">0.2</text>
<text x="822.9" y="863">0.4</text>
<text x="1022.1" y="863">0.6</text>
<text x="1221.4" y="863">0.8</text>
<text x="1420.7" y="863">1.0</text>
<text x="1620" y="863">1.2</text>
</g>
<g class="lbl" text-anchor="end">
<text x="219" y="852">−0.2</text>
<text x="219" y="744.6">0.0</text>
<text x="219" y="637.1">0.2</text>
<text x="219" y="529.7">0.4</text>
<text x="219" y="422.3">0.6</text>
<text x="219" y="314.9">0.8</text>
<text x="219" y="207.4">1.0</text>
<text x="219" y="100">1.2</text>
</g>
</g>
</svg>
